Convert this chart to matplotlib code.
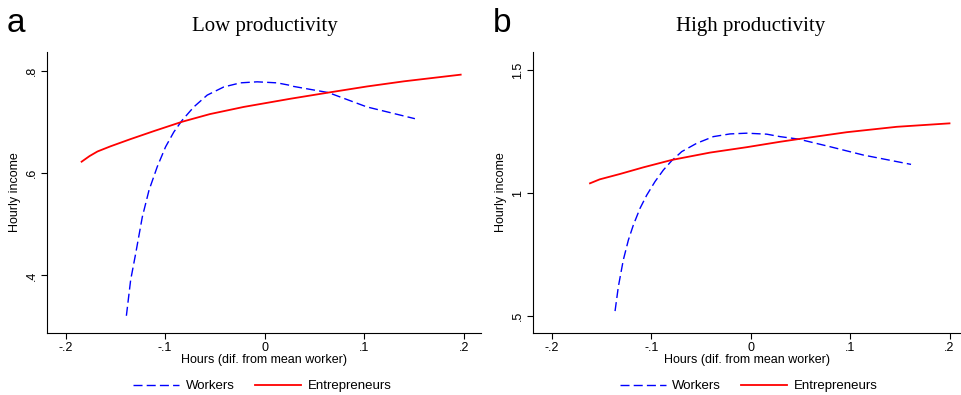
import matplotlib.pyplot as plt
import matplotlib.transforms as mtransforms

# Panel a : low productivity
low_workers_x = [-0.139, -0.1347, -0.1297, -0.123, -0.1163, -0.108, -0.0996, -0.0913,
                 -0.0829, -0.0712, -0.0578, -0.0411, -0.0244, -0.0076, 0.0124, 0.0258,
                 0.0291, 0.064, 0.1027, 0.151]
low_workers_y = [0.321, 0.391, 0.442, 0.514, 0.566, 0.612, 0.651, 0.680,
                 0.703, 0.729, 0.752, 0.768, 0.776, 0.778, 0.776, 0.771,
                 0.769, 0.757, 0.729, 0.706]
low_entre_x = [-0.184, -0.176, -0.168, -0.155, -0.135, -0.111, -0.083, -0.055,
               -0.021, 0.026, 0.064, 0.103, 0.140, 0.197]
low_entre_y = [0.622, 0.633, 0.642, 0.652, 0.666, 0.682, 0.700, 0.715,
               0.729, 0.745, 0.757, 0.769, 0.779, 0.792]

# Panel b : high productivity
high_workers_x = [-0.1365, -0.1332, -0.1282, -0.1231, -0.1181, -0.1114, -0.1046, -0.0963,
                  -0.0879, -0.0795, -0.0694, -0.0543, -0.0376, -0.0208, -0.004, 0.0161,
                  0.0295, 0.048, 0.0798, 0.1133, 0.1613]
high_workers_y = [0.520, 0.619, 0.728, 0.809, 0.870, 0.938, 0.992, 1.047,
                  1.094, 1.132, 1.169, 1.203, 1.230, 1.241, 1.244, 1.240,
                  1.230, 1.220, 1.189, 1.155, 1.117]
high_entre_x = [-0.1617, -0.152, -0.1315, -0.108, -0.0795, -0.041, -0.004, 0.0295,
                0.048, 0.0966, 0.147, 0.200]
high_entre_y = [1.040, 1.056, 1.078, 1.105, 1.135, 1.165, 1.187, 1.209,
                1.220, 1.248, 1.270, 1.284]

x_ticks = [-0.2, -0.1, 0, 0.1, 0.2]
x_ticklabels = ['-.2', '-.1', '0', '.1', '.2']
low_yticks = [0.4, 0.6, 0.8]
low_yticklabels = ['.4', '.6', '.8']
high_yticks = [0.5, 1.0, 1.5]
high_yticklabels = ['.5', '1', '1.5']

plt.rcParams['font.family'] = ['Liberation Sans', 'DejaVu Sans']

fig = plt.figure(figsize=(9.61, 3.95), dpi=100)
ax_a = fig.add_axes([0.0492, 0.157, 0.4513, 0.7114])
ax_b = fig.add_axes([0.555, 0.157, 0.444, 0.7114])

panels = [
    (ax_a, 'a', 'Low productivity', low_workers_x, low_workers_y, low_entre_x, low_entre_y,
     (-0.2185, 0.2174), (0.2874, 0.8363), low_yticks, low_yticklabels, 0.0074, 0.273),
    (ax_b, 'b', 'High productivity', high_workers_x, high_workers_y, high_entre_x, high_entre_y,
     (-0.2187, 0.2106), (0.4308, 1.5745), high_yticks, high_yticklabels, 0.5125, 0.779),
]

for (ax, letter, title, wx, wy, ex, ey, xlim, ylim, yt, ytl, lx, legx) in panels:
    ax.plot(wx, wy, color='#0000ff', lw=1.0, dashes=(6.5, 3), label='Workers')
    ax.plot(ex, ey, color='#ff0000', lw=1.3, label='Entrepreneurs')
    ax.set_xlim(*xlim)
    ax.set_ylim(*ylim)
    ax.set_xticks(x_ticks)
    ax.set_xticklabels(x_ticklabels)
    ax.set_yticks(yt)
    ax.set_yticklabels(ytl, rotation=90, va='center')
    ax.tick_params(direction='out', length=4, width=0.8, labelsize=9, pad=2.5)
    for s in ['top', 'right']:
        ax.spines[s].set_visible(False)
    ax.set_xlabel('Hours (dif. from mean worker)', fontsize=9, labelpad=0)
    ax.set_ylabel('Hourly income', fontsize=9, labelpad=4)
    # title centred on x = 0
    trans = mtransforms.blended_transform_factory(ax.transData, fig.transFigure)
    ax.text(0, 0.921, title, transform=trans, ha='center', va='baseline',
            fontsize=15, family='Liberation Serif')
    fig.text(lx, 0.92, letter, fontsize=24, va='baseline', ha='left')
    ax.legend(loc='center', bbox_to_anchor=(legx, 0.022), bbox_transform=fig.transFigure,
              ncol=2, frameon=False, fontsize=9.5, handlelength=3.5, handletextpad=0.5,
              columnspacing=1.5)

fig.savefig('out.png', dpi=100)
